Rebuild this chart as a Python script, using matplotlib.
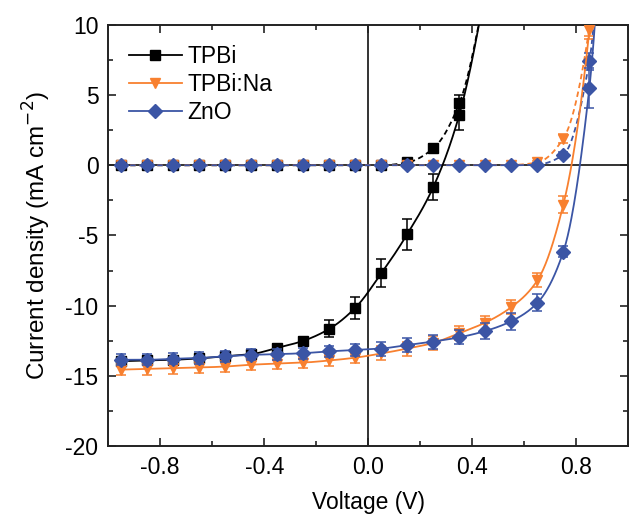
import numpy as np
import matplotlib
matplotlib.use("Agg")
import matplotlib.pyplot as plt
from matplotlib.ticker import MultipleLocator

plt.rcParams['font.family'] = ['Liberation Sans', 'DejaVu Sans']

# ---- data ----
voltage = [-0.95, -0.85, -0.75, -0.65, -0.55, -0.45, -0.35, -0.25, -0.15, -0.05,
           0.05, 0.15, 0.25, 0.35, 0.45, 0.55, 0.65, 0.75, 0.85, 0.95]

# light (solid) curves
tpbi_light = [-13.95, -13.9, -13.85, -13.75, -13.6, -13.45, -13.0, -12.5, -11.65, -10.15,
              -7.7, -4.9, -1.55, 3.6, 12.5, 25, 40, 60, 80, 100]
tpbi_light_err = [0.3, 0.3, 0.3, 0.3, 0.3, 0.3, 0.3, 0.3, 0.6, 0.8,
                  1.0, 1.1, 0.9, 1.1, 1.0, 1.0, 1.0, 1.0, 1.0, 1.0]
tpbina_light = [-14.55, -14.5, -14.45, -14.4, -14.33, -14.2, -14.12, -14.05, -13.9, -13.7,
                -13.4, -13.05, -12.65, -11.95, -11.2, -10.1, -8.2, -2.8, 9.6, 40]
tpbina_light_err = [0.4, 0.4, 0.4, 0.4, 0.4, 0.4, 0.4, 0.4, 0.4, 0.4,
                    0.5, 0.5, 0.5, 0.5, 0.5, 0.5, 0.5, 0.6, 0.6, 0.6]
zno_light = [-13.85, -13.85, -13.78, -13.72, -13.6, -13.5, -13.45, -13.38, -13.25, -13.15,
             -13.05, -12.8, -12.55, -12.25, -11.8, -11.1, -9.8, -6.15, 5.5, 35]
zno_light_err = [0.4, 0.4, 0.4, 0.4, 0.4, 0.4, 0.4, 0.4, 0.4, 0.4,
                 0.5, 0.5, 0.5, 0.5, 0.6, 0.6, 0.6, 0.4, 1.4, 1.0]

# dark (dashed) curves
tpbi_dark = [0.0, 0.0, 0.0, 0.0, 0.0, 0.0, 0.0, 0.0, 0.0, 0.0,
             0.0, 0.2, 1.2, 4.4, 12.5, 25, 40, 60, 80, 100]
tpbi_dark_err = [0.1, 0.1, 0.1, 0.1, 0.1, 0.1, 0.1, 0.1, 0.1, 0.1,
                 0.1, 0.1, 0.3, 0.6, 0.6, 0.6, 0.6, 0.6, 0.6, 0.6]
tpbina_dark = [0.0, 0.0, 0.0, 0.0, 0.0, 0.0, 0.0, 0.0, 0.0, 0.0,
               0.0, 0.0, 0.0, 0.0, 0.0, 0.02, 0.2, 1.9, 9.8, 40]
tpbina_dark_err = [0.1] * 17 + [0.3, 0.6, 0.6]
zno_dark = [0.0, 0.0, 0.0, 0.0, 0.0, 0.0, 0.0, 0.0, 0.0, 0.0,
            0.0, 0.0, 0.0, 0.0, 0.0, 0.0, 0.05, 0.75, 7.4, 35]
zno_dark_err = [0.1] * 17 + [0.2, 0.6, 0.6]

labels = ["TPBi", "TPBi:Na", "ZnO"]
colors = ["#000000", "#F8802F", "#3B55A5"]
markers = ["s", "v", "D"]
xtick_labels = ["-0.8", "-0.4", "0.0", "0.4", "0.8"]
ytick_labels = ["-20", "-15", "-10", "-5", "0", "5", "10"]


def pchip(x, y, xs):
    x = np.asarray(x, float)
    y = np.asarray(y, float)
    h = np.diff(x)
    d = np.diff(y) / h
    m = np.zeros_like(y)
    for k in range(1, len(x) - 1):
        if d[k - 1] * d[k] > 0:
            w1 = 2 * h[k] + h[k - 1]
            w2 = h[k] + 2 * h[k - 1]
            m[k] = (w1 + w2) / (w1 / d[k - 1] + w2 / d[k])
    m[0] = d[0]
    m[-1] = d[-1]
    idx = np.clip(np.searchsorted(x, xs) - 1, 0, len(x) - 2)
    t = (xs - x[idx]) / h[idx]
    h00 = 2 * t**3 - 3 * t**2 + 1
    h10 = t**3 - 2 * t**2 + t
    h01 = -2 * t**3 + 3 * t**2
    h11 = t**3 - t**2
    return h00 * y[idx] + h10 * h[idx] * m[idx] + h01 * y[idx + 1] + h11 * h[idx] * m[idx + 1]


fig = plt.figure(figsize=(6.29, 5.17), dpi=100)
ax = fig.add_axes([0.172, 0.137, 0.827, 0.815])

ax.axhline(0, color="#333333", lw=1.4, zorder=1)
ax.axvline(0, color="#333333", lw=1.4, zorder=1)

xs = np.linspace(voltage[0], voltage[-1], 800)
light = [(tpbi_light, tpbi_light_err), (tpbina_light, tpbina_light_err), (zno_light, zno_light_err)]
dark = [(tpbi_dark, tpbi_dark_err), (tpbina_dark, tpbina_dark_err), (zno_dark, zno_dark_err)]

ms = 7.3
for i in range(3):
    c = colors[i]
    y, e = dark[i]
    ax.plot(xs, pchip(voltage, y, xs), color=c, ls=(0, (3, 2)), lw=1.3, zorder=2 + i)
    ax.errorbar(voltage, y, yerr=e, fmt=markers[i], color=c, ms=ms, capsize=3.8,
                elinewidth=1.1, capthick=1.1, zorder=3 + i)
for i in range(3):
    c = colors[i]
    y, e = light[i]
    ax.plot(xs, pchip(voltage, y, xs), color=c, ls='-', lw=1.3, zorder=6 + i)
    ax.errorbar(voltage, y, yerr=e, fmt=markers[i], color=c, ms=ms, capsize=3.8,
                elinewidth=1.1, capthick=1.1, zorder=7 + i)

handles = [plt.Line2D([], [], color=colors[i], marker=markers[i], ms=ms, lw=1.3)
           for i in range(3)]
ax.legend(handles, labels, loc="upper left", frameon=False, fontsize=16.5,
          handlelength=2.3, handletextpad=0.25, labelspacing=0.2,
          bbox_to_anchor=(0.0, 1.0), borderaxespad=0.5)

ax.set_xlim(-1.0, 1.0)
ax.set_ylim(-20, 10)
ax.xaxis.set_minor_locator(MultipleLocator(0.2))
ax.yaxis.set_minor_locator(MultipleLocator(2.5))
ax.set_xticks([-0.8, -0.4, 0.0, 0.4, 0.8])
ax.set_xticklabels(xtick_labels)
ax.set_yticks([-20, -15, -10, -5, 0, 5, 10])
ax.set_yticklabels(ytick_labels)
ax.tick_params(which="both", direction="in", top=True, right=True, labelsize=16.5,
               color="#222222", width=1.2)
ax.tick_params(which="major", length=6, pad=7)
ax.tick_params(which="minor", length=3.5)
for s in ax.spines.values():
    s.set_linewidth(1.4)
    s.set_color("#222222")

ax.set_xlabel("Voltage (V)", fontsize=16.5, labelpad=9)
ax.set_ylabel("Current density (mA cm$^{-2}$)", fontsize=17.5, labelpad=9)

fig.savefig("out.png", dpi=100)
